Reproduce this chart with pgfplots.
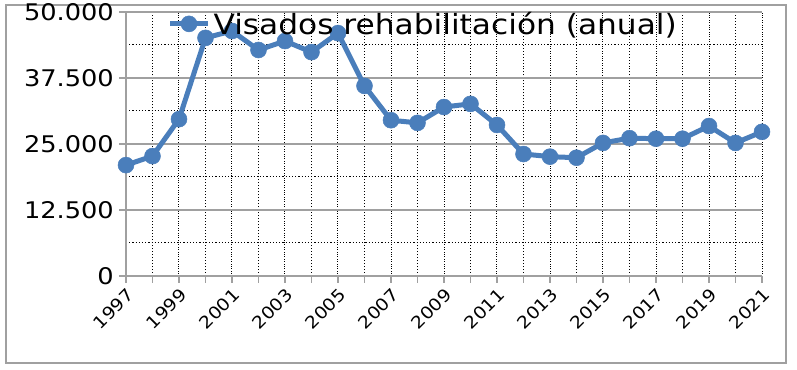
\documentclass[border=0pt]{standalone}
\usepackage{fontspec}
\setmainfont{DejaVu Sans}[FakeStretch=1.12]
\usepackage{pgfplots}
\pgfplotsset{compat=1.18}
\definecolor{serie}{RGB}{74,126,187}
\definecolor{gridgray}{RGB}{160,160,160}
\pgfplotstableread{
year value
1997 21000
1998 22700
1999 29700
2000 45100
2001 46400
2002 42800
2003 44500
2004 42400
2005 46000
2006 36000
2007 29500
2008 29000
2009 32000
2010 32600
2011 28600
2012 23100
2013 22600
2014 22400
2015 25200
2016 26100
2017 26000
2018 26000
2019 28400
2020 25200
2021 27300
}\datatable
\begin{document}
\begin{tikzpicture}
\path (-126bp,-94bp) rectangle (671bp,275bp);
\draw[gridgray, line width=1.5bp] (-120bp,-87bp) rectangle (660bp,271bp);
\begin{axis}[
  at={(0,0)}, anchor=south west,
  width=636bp, height=264bp, scale only axis,
  xmin=1997, xmax=2021, ymin=0, ymax=50000,
  axis x line=bottom, axis y line=left,
  axis line style={-, gridgray, line width=1.2bp},
  xtick={1997,1999,...,2021},
  xticklabels={1997,1999,2001,2003,2005,2007,2009,2011,2013,2015,2017,2019,2021},
  minor xtick={1998,2000,...,2020},
  ytick={0,12500,25000,37500,50000},
  yticklabels={0,12.500,25.000,37.500,50.000},
  scaled y ticks=false, scaled x ticks=false,
  minor ytick={6250,18750,31250,43750},
  tick align=outside,
  major tick length=7bp,
  minor tick length=7bp,
  tick style={gridgray, line width=1.2bp},
  minor y tick style={draw=none},
  xmajorgrids, xminorgrids, ymajorgrids, yminorgrids,
  x grid style={black, dotted, line width=1bp},
  minor x grid style={black, dotted, line width=1bp},
  y grid style={gridgray, solid, line width=1.2bp},
  minor y grid style={black, dotted, line width=1bp},
  yticklabel style={font=\fontsize{23}{26}\selectfont, inner xsep=5bp},
  xticklabel style={font=\fontsize{17}{19}\selectfont, rotate=45, anchor=north east, inner sep=3bp},
  legend style={at={(0.065,0.955)}, anchor=west, draw=none, fill=none, inner sep=0pt,
    font=\fontsize{28}{30}\selectfont, legend cell align=left,
    nodes={inner xsep=3bp, inner ysep=0pt}},
  legend image code/.code={
    \draw[#1, mark repeat=2, mark phase=2] plot coordinates {(0bp,0bp) (19bp,0bp) (38bp,0bp)};
  },
  clip=false,
]
\addplot[serie, line width=5bp, mark=*, mark size=8bp, mark options={solid, fill=serie, draw=serie, line width=0.5bp}] table[x=year, y=value] {\datatable};
\addlegendentry{Visados rehabilitación (anual)}
\end{axis}
\end{tikzpicture}
\end{document}
